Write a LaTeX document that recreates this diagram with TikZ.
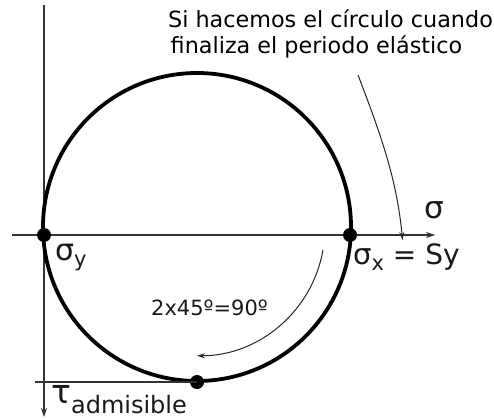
\documentclass[tikz,border=0pt]{standalone}
\usepackage{fontspec}
\setmainfont{DejaVu Sans}
\usetikzlibrary{arrows.meta}
\begin{document}
\begin{tikzpicture}[x=1pt,y=1pt,
  axis/.style={draw=black!80, line width=1.3pt},
  arr/.style={-{Stealth[length=9pt,width=6pt,inset=3pt]}},
  thin arr/.style={draw=black!85, line width=1pt, -{Stealth[length=8pt,width=5pt,inset=2.5pt]}},
  mohr/.style={draw=black, line width=3.8pt},
  dot/.style={circle, fill=black, inner sep=0pt, minimum size=14pt},
  lbl/.style={inner sep=0pt, anchor=base west, text=black!90}]
\useasboundingbox (0,0) rectangle (494,418);
% axes
\coordinate (vtop) at (44,413);
\coordinate (vbot) at (44,1);
\coordinate (hleft) at (12,183);
\coordinate (hright) at (435,183);
\draw[axis, arr] (vtop) -- (vbot);
\draw[axis, arr] (hleft) -- (hright);
% tau line
\coordinate (tl) at (35,36);
\coordinate (c0) at (197,191);
% Mohr circle
\draw[mohr] (c0) circle[radius=154];
\node[dot] (sy) at (44,183) {};
\node[dot] (sx) at (350,183) {};
\node[dot] (tb) at (197,36) {};
\draw[axis] (tl) -- (tb.center);
% annotation arrow
\coordinate (a0) at (358,343);
\coordinate (a1) at (402.5,178);
\draw[thin arr] (a0) .. controls (381,283) and (397,238) .. (a1);
% rotation arrow
\coordinate (r0) at (323,168);
\draw[thin arr] (r0) arc[start angle=-10, end angle=-90, radius=128];
% texts
\node[inner sep=0pt, anchor=base, font=\fontsize{22.3}{26}\selectfont] (t1) at (330.5,390) {Si hacemos el círculo cuando};
\node[inner sep=0pt, anchor=base, font=\fontsize{22.3}{26}\selectfont] (t2) at (316.5,364) {finaliza el periodo elástico};
\node[lbl, font=\fontsize{31}{31}\selectfont] (sig) at (424,200) {σ};
\node[lbl] (lx) at (353,154) {{\fontsize{29}{29}\selectfont σ}{\fontsize{21}{21}\selectfont\raisebox{-6pt}{x}}{\fontsize{28}{28}\selectfont\ = Sy}};
\node[lbl] (ly) at (55,158) {{\fontsize{30}{30}\selectfont σ}{\fontsize{21}{21}\selectfont\raisebox{-6pt}{y}}};
\node[lbl] (lt) at (51,15) {{\fontsize{33}{33}\selectfont τ}{\fontsize{24}{24}\selectfont\raisebox{-10pt}{admisible}}};
\node[lbl, font=\fontsize{21}{21}\selectfont] (ang) at (151,103) {2x45º=90º};
\end{tikzpicture}
\end{document}
